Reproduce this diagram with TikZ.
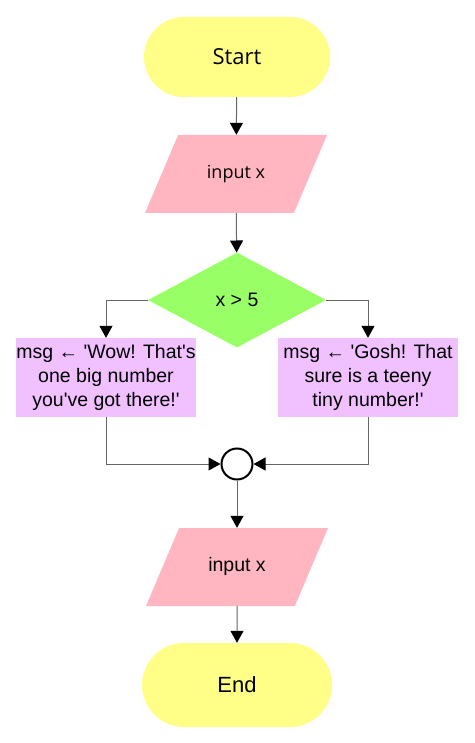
\documentclass[tikz,border=0pt]{standalone}
\usepackage{fontspec}
\setmainfont{Liberation Sans}
\newfontfamily\opensans{Open Sans}
\usetikzlibrary{arrows.meta,shapes.geometric}
\definecolor{termyellow}{HTML}{FFFF88}
\definecolor{iopink}{HTML}{FFB6C1}
\definecolor{decgreen}{HTML}{99FF66}
\definecolor{procviolet}{HTML}{F0C0FF}
\definecolor{linegray}{HTML}{666666}
\newcommand{\sq}{\textquotesingle}

\begin{document}
\begin{tikzpicture}[x=1pt,y=-1pt,
	terminal/.style={fill=termyellow,rounded corners=40pt,minimum width=186pt,minimum height=80pt,inner sep=0pt,font=\fontsize{22}{26}\selectfont},
	io/.style={trapezium,trapezium left angle=67,trapezium right angle=113,trapezium stretches body,fill=iopink,minimum width=182pt,text height=13pt,text depth=4pt,inner xsep=0pt,inner ysep=30.5pt,font=\fontsize{19.5}{23}\selectfont},
	decision/.style={diamond,aspect=1.87,fill=decgreen,minimum width=178pt,minimum height=95pt,inner sep=0pt,font=\fontsize{19.5}{23}\selectfont},
	process/.style={rectangle,fill=procviolet,minimum width=180pt,minimum height=79pt,align=center,inner sep=0pt,font=\fontsize{19.5}{24}\selectfont},
	junction/.style={circle,draw=black,line width=2pt,fill=white,minimum size=31pt,inner sep=0pt},
	flow/.style={draw=linegray,line width=1pt,-{Triangle[width=13pt,length=12pt,color=black]}}]
	\useasboundingbox (0,0) rectangle (474,743);
	\node[terminal] (start) at (237,57) {\opensans Start};
	\node[io] (in1) at (236,174) {\opensans\fontsize{18}{22}\selectfont input x};
	\node[decision] (test) at (237,300) {x > 5};
	\node[process] (big) at (106,377.5) {msg ← \sq Wow! That\sq s\\one big number\\you\sq ve got there!\sq};
	\node[process] (tiny) at (368,377.5) {msg ← \sq Gosh! That\\sure is a teeny\\tiny number!\sq};
	\node[junction] (join) at (237,464) {};
	\node[io] (in2) at (237,567) {input x};
	\node[terminal,minimum width=190pt,minimum height=84pt,rounded corners=42pt] (stop) at (237,685) {End};
	
	\draw [flow] (start) -- (in1);
	\draw [flow] (in1) -- (test);
	\draw [flow] (test.west) -| (big.north);
	\draw [flow] (test.east) -| (tiny.north);
	\draw [flow] (big.south) |- (join.west);
	\draw [flow] (tiny.south) |- (join.east);
	\draw [flow] (join) -- (in2);
	\draw [flow] (in2) -- (stop);
\end{tikzpicture}
\end{document}
